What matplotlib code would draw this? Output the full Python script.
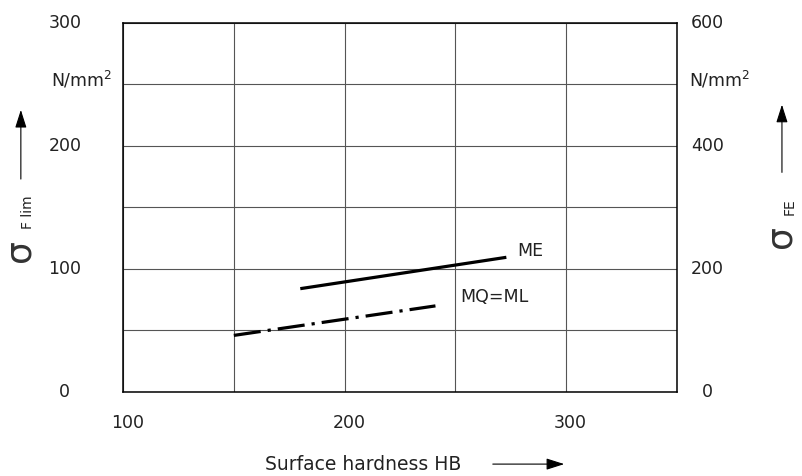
import matplotlib
matplotlib.use("Agg")
import matplotlib.pyplot as plt

plt.rcParams['font.family'] = ['DejaVu Sans']

# data
hb_me = [180, 273]
sigma_me = [84, 109.5]
hb_mq = [150, 241]
sigma_mq = [46, 70]

x_ticks = [100, 200, 300]
y_ticks_left = [0, 100, 200, 300]
y_ticks_right = [0, 200, 400, 600]

txt = '#222222'
fs = 12.5
arrow = dict(arrowstyle='-|>,head_length=1.1,head_width=0.35', color='black', lw=0.8)

fig = plt.figure(figsize=(8.02, 4.76), dpi=100)
ax = fig.add_axes([0.1534, 0.1765, 0.6907, 0.7752])

ax.plot(hb_me, sigma_me, color='black', lw=2.3, solid_capstyle='butt')
ax.plot(hb_mq, sigma_mq, color='black', lw=2.3, dashes=[8.5, 2.2, 1, 2.2], dash_capstyle='butt')
ax.text(278, 115, 'ME', fontsize=fs, color=txt, ha='left', va='center')
ax.text(252, 77, 'MQ=ML', fontsize=fs, color=txt, ha='left', va='center')

ax.set_xlim(100, 350)
ax.set_ylim(0, 300)
ax.set_xticks(range(100, 351, 50))
ax.set_yticks(range(0, 301, 50))
ax.grid(True, color='#555555', lw=0.8)
ax.tick_params(length=0, labelbottom=False, labelleft=False)
for s in ax.spines.values():
    s.set_linewidth(1.1)

# tick labels
for v in x_ticks:
    ax.text(v + 2, -25, str(v), fontsize=fs, color=txt, ha='center', va='center')
for v in y_ticks_left:
    ax.text(-0.105, v / 300, str(v), transform=ax.transAxes, fontsize=fs,
            color=txt, ha='center', va='center')
for v in y_ticks_right:
    ax.text(1.055, v / 600, str(v), transform=ax.transAxes, fontsize=fs,
            color=txt, ha='center', va='center')

# units
fig.text(0.102, 0.833, r'N/mm$^{2}$', fontsize=fs, color=txt, ha='center', va='center')
fig.text(0.897, 0.833, r'N/mm$^{2}$', fontsize=fs, color=txt, ha='center', va='center')

# axis titles with arrows
fig.text(0.027, 0.468, r'$\mathregular{\sigma}$', fontsize=26, color='#333333',
         rotation=90, ha='center', va='center')
fig.text(0.035, 0.555, 'F lim', fontsize=10, color=txt, rotation=90, ha='center', va='center')
ax.annotate('', xy=(0.026, 0.775), xytext=(0.026, 0.618), xycoords='figure fraction',
            arrowprops=arrow, annotation_clip=False)

fig.text(0.976, 0.498, r'$\mathregular{\sigma}$', fontsize=26, color='#333333',
         rotation=90, ha='center', va='center')
fig.text(0.984, 0.565, 'FE', fontsize=10, color=txt, rotation=90, ha='center', va='center')
ax.annotate('', xy=(0.975, 0.786), xytext=(0.975, 0.632), xycoords='figure fraction',
            arrowprops=arrow, annotation_clip=False)

fig.text(0.330, 0.025, 'Surface hardness HB', fontsize=13.5, color=txt, ha='left', va='center')
ax.annotate('', xy=(0.707, 0.025), xytext=(0.611, 0.025), xycoords='figure fraction',
            arrowprops=arrow, annotation_clip=False)

fig.savefig('out.png', dpi=100)
